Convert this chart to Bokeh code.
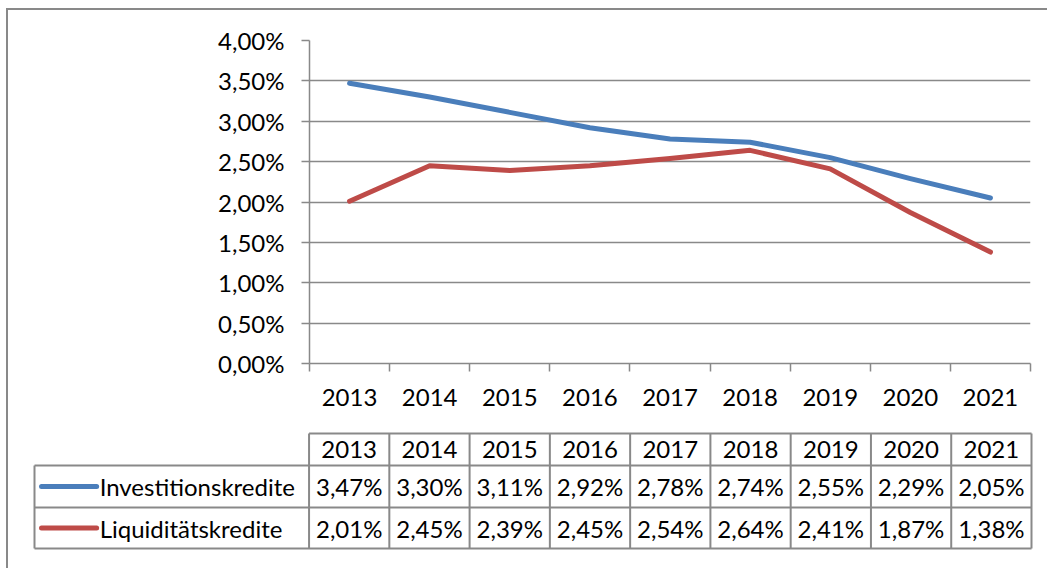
from bokeh.plotting import figure
from bokeh.layouts import column
from bokeh.models import Range1d, FixedTicker, CustomJSTickFormatter
from bokeh.core.properties import value
from bokeh.embed import file_html
from bokeh.resources import INLINE

# ---- data ----
years = ["2013", "2014", "2015", "2016", "2017", "2018", "2019", "2020", "2021"]
investitionskredite = [3.47, 3.30, 3.11, 2.92, 2.78, 2.74, 2.55, 2.29, 2.05]
liquiditaetskredite = [2.01, 2.45, 2.39, 2.45, 2.54, 2.64, 2.41, 1.87, 1.38]
series_names = ["Investitionskredite", "Liquiditätskredite"]
y_ticks = [0.0, 0.5, 1.0, 1.5, 2.0, 2.5, 3.0, 3.5, 4.0]

# ---- styles ----
FONT = "Lato"
FSIZE = "24px"
BLUE = "#4A7EBB"
RED = "#BE4B48"
GRAY = "#898989"
colors = [BLUE, RED]
series = [investitionskredite, liquiditaetskredite]

n = len(years)
xs = [i + 0.5 for i in range(n)]

def fmt(v):
    return f"{v:.2f}".replace(".", ",") + "%"

# ---- top chart ----
top = figure(width=1039, height=410, output_backend="svg", toolbar_location=None,
             x_range=Range1d(0, n), y_range=Range1d(0, 4),
             min_border_left=301, min_border_right=17, min_border_top=30, min_border_bottom=57)
top.outline_line_color = None

for vals, c in zip(series, colors):
    top.line(xs, vals, line_color=c, line_width=5, line_join="round", line_cap="round")

top.xgrid.visible = False
top.ygrid.ticker = FixedTicker(ticks=y_ticks)
top.ygrid.grid_line_color = GRAY
top.ygrid.grid_line_width = 1.5

yax = top.yaxis[0]
yax.ticker = FixedTicker(ticks=y_ticks)
yax.formatter = CustomJSTickFormatter(code="return tick.toFixed(2).replace('.', ',') + '%';")
yax.axis_line_color = GRAY
yax.axis_line_width = 1.5
yax.major_tick_line_color = GRAY
yax.major_tick_line_width = 1.5
yax.major_tick_out = 8
yax.major_tick_in = 0
yax.minor_tick_line_color = None
yax.major_label_standoff = 17
yax.major_label_text_font = FONT
yax.major_label_text_font_size = FSIZE
yax.major_label_text_color = "black"

xax = top.xaxis[0]
xax.ticker = FixedTicker(ticks=xs, minor_ticks=list(range(n + 1)))
xax.major_label_overrides = {x: y for x, y in zip(xs, years)}
xax.axis_line_color = GRAY
xax.axis_line_width = 1.5
xax.major_tick_line_color = None
xax.major_tick_out = 0
xax.major_tick_in = 0
xax.minor_tick_line_color = GRAY
xax.minor_tick_line_width = 1.5
xax.minor_tick_out = 8
xax.minor_tick_in = 0
xax.major_label_standoff = 17
xax.major_label_text_font = FONT
xax.major_label_text_font_size = FSIZE
xax.major_label_text_color = "black"

# ---- data table below ----
PX = (1031 - 310) / n     # px per category column
L = (310 - 36) / PX       # label column width in category units
pad = 3 / PX
row_edges = [0, 41, 83, 115]   # layout px of the table rows (bottom -> top)
bot = figure(width=1039, height=148, output_backend="svg", toolbar_location=None,
             x_range=Range1d(-L - pad, n + pad), y_range=Range1d(-3, 118),
             x_axis_type=None, y_axis_type=None,
             min_border_left=23, min_border_right=13, min_border_top=10, min_border_bottom=17)
bot.outline_line_color = None
bot.xgrid.visible = False
bot.ygrid.visible = False

for fig in (top, bot):
    if "frame_align" in fig.properties():
        fig.frame_align = False

x0s, y0s, x1s, y1s = [], [], [], []
x0s.append(0); y0s.append(row_edges[3]); x1s.append(n); y1s.append(row_edges[3])
for ye in row_edges[:3]:
    x0s.append(-L); y0s.append(ye); x1s.append(n); y1s.append(ye)
x0s.append(-L); y0s.append(row_edges[0]); x1s.append(-L); y1s.append(row_edges[2])
for i in range(n + 1):
    x0s.append(i); y0s.append(row_edges[0]); x1s.append(i); y1s.append(row_edges[3])
bot.segment(x0s, y0s, x1s, y1s, line_color=GRAY, line_width=2)

hy = (row_edges[2] + row_edges[3]) / 2
bot.text(xs, [hy] * n, text=years, text_align="center", text_baseline="middle",
         text_font=value(FONT), text_font_size=FSIZE, text_color="black")

row_centers = [(row_edges[1] + row_edges[2]) / 2, (row_edges[0] + row_edges[1]) / 2]
for name, vals, c, yc in zip(series_names, series, colors, row_centers):
    bot.text(xs, [yc] * n, text=[fmt(v) for v in vals], text_align="center", text_baseline="middle",
             text_font=value(FONT), text_font_size=FSIZE, text_color="black")
    bot.segment([(43 - 310) / PX], [yc], [(98 - 310) / PX], [yc], line_color=c, line_width=5, line_cap="round")
    bot.text([(101 - 310) / PX], [yc], text=[name], text_align="left", text_baseline="middle",
             text_font=value(FONT), text_font_size=FSIZE, text_color="black")

layout = column(top, bot, spacing=0, margin=(8, 0, 0, 6),
                styles={"border-left": "2px solid #898989", "border-top": "2px solid #898989"})

open("out.html", "w").write(file_html(layout, INLINE))
